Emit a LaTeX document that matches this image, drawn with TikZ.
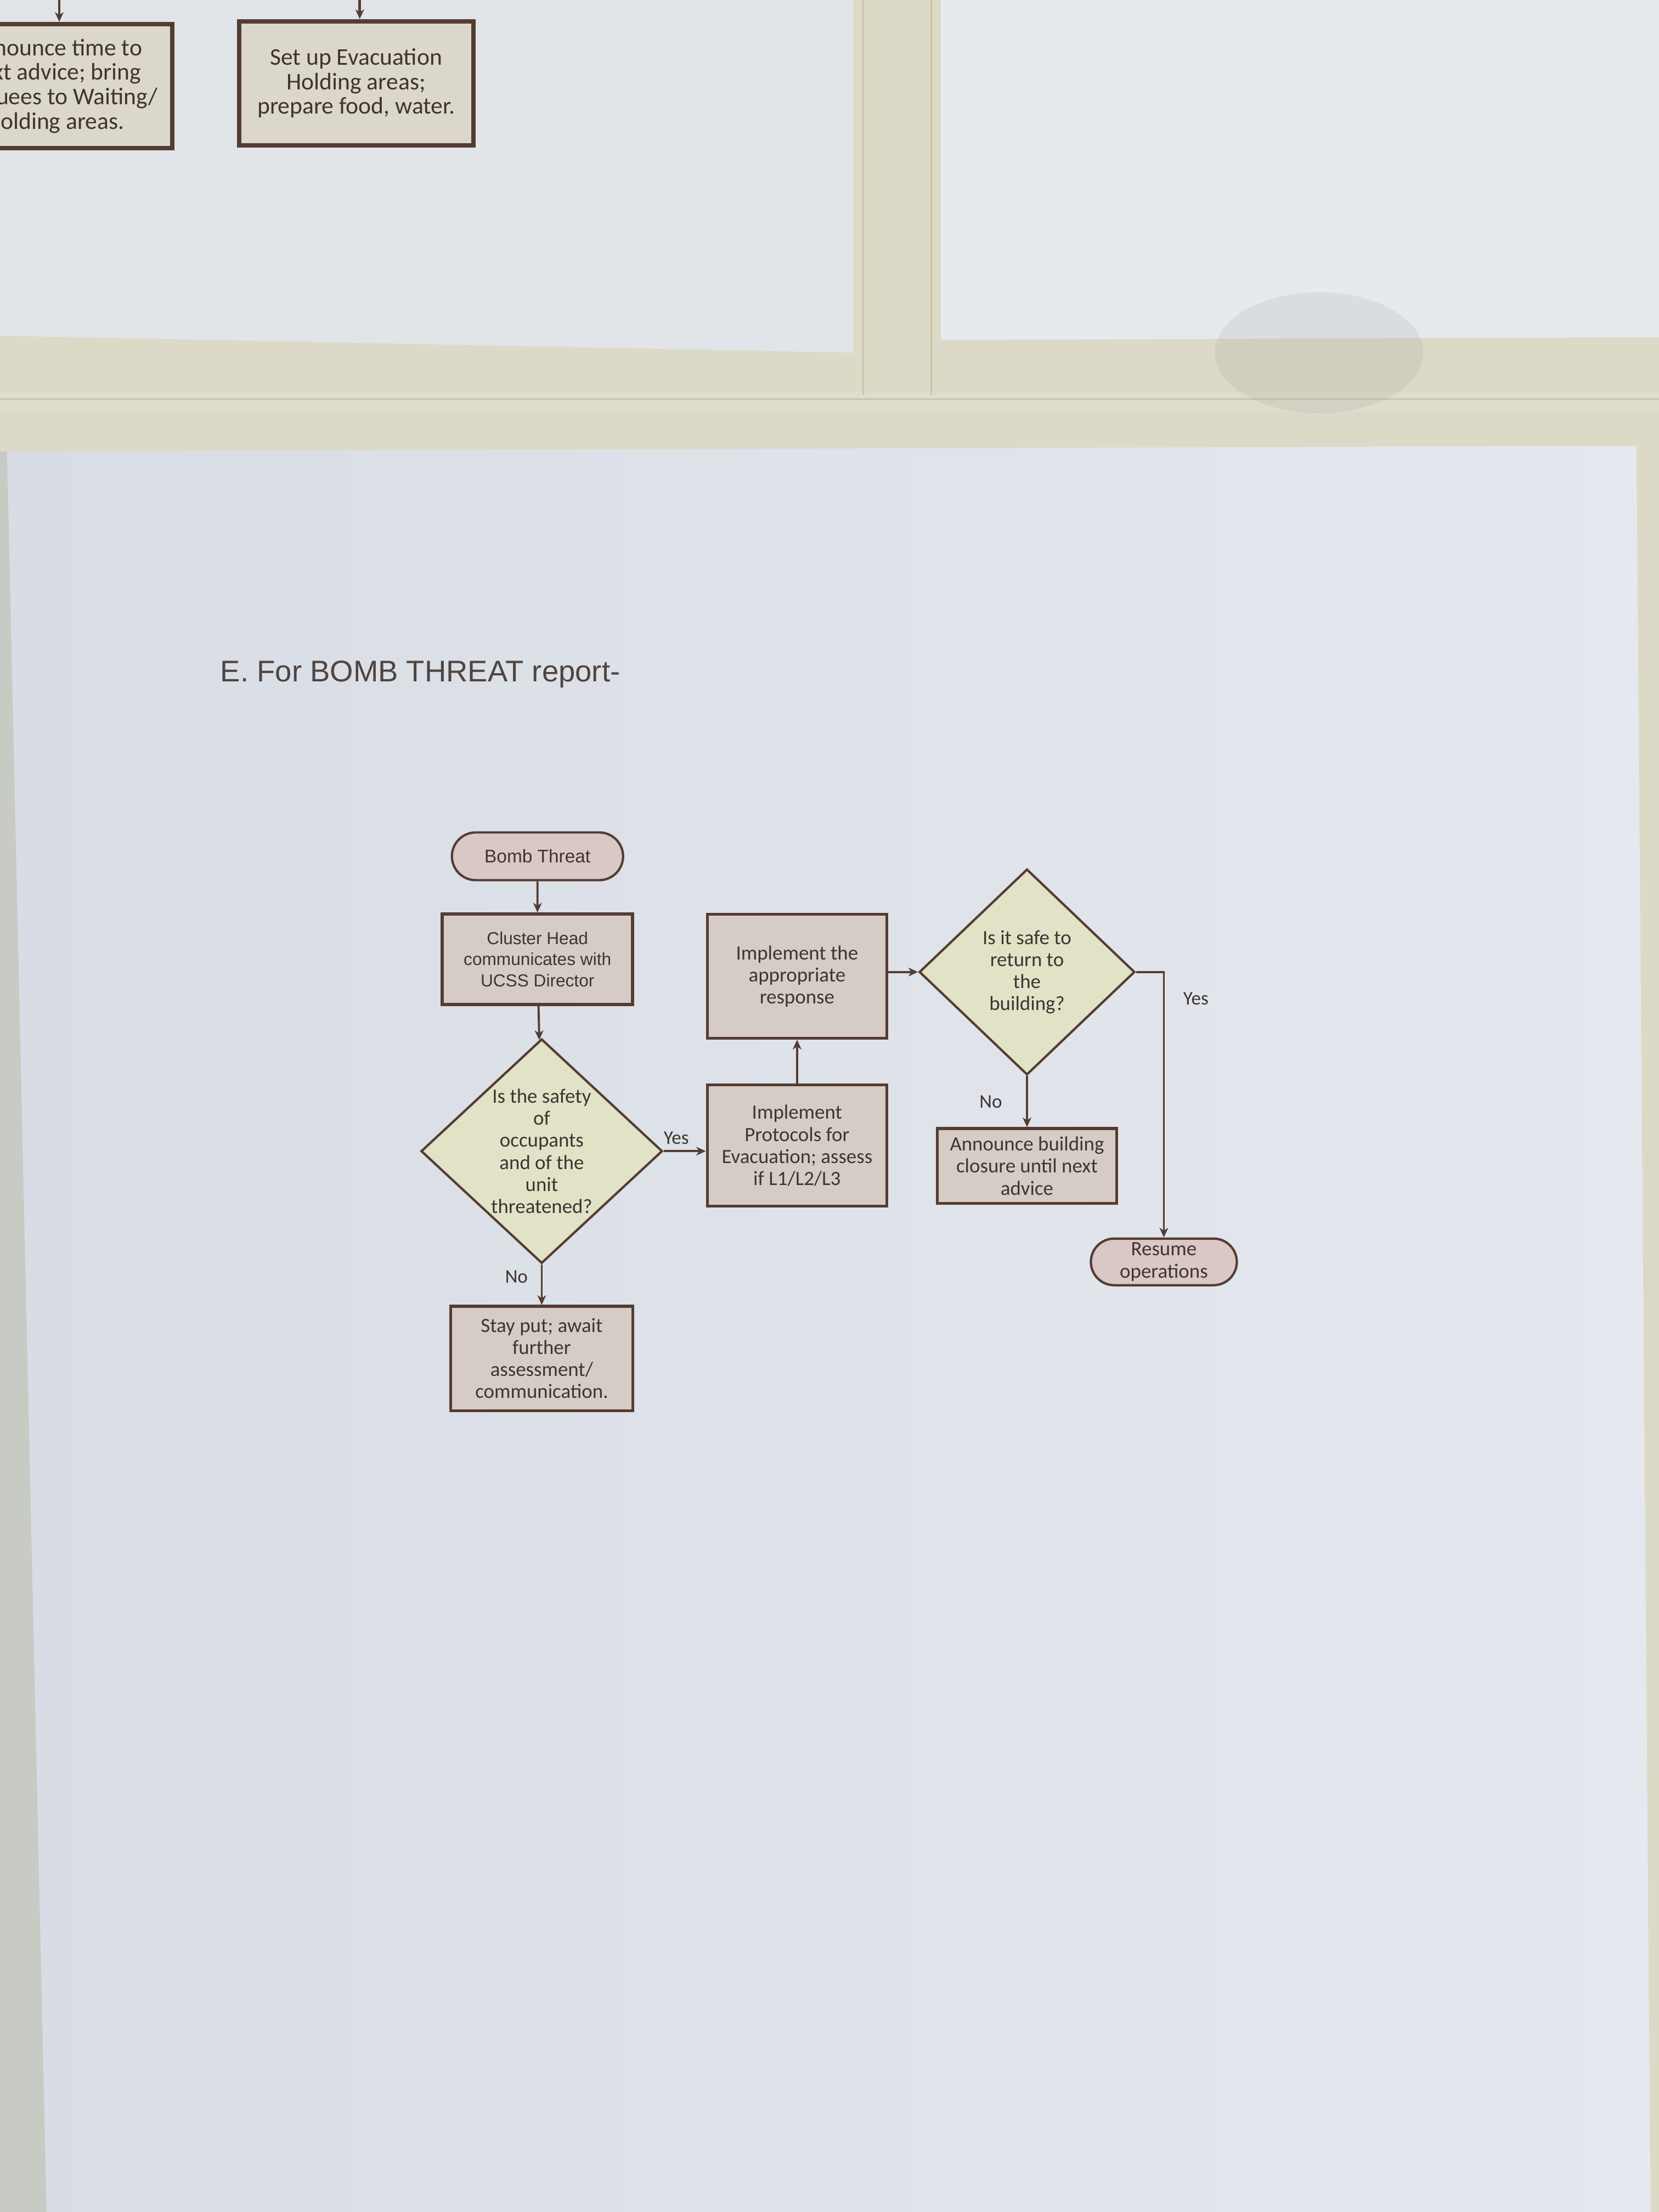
\documentclass[tikz,border=0pt]{standalone}
\usepackage{fontspec}
\setmainfont{Carlito}
\newfontfamily\arialfont{Liberation Sans}
\usepackage{tikz}
\usetikzlibrary{arrows.meta,positioning,shapes.geometric,shapes.misc}
\definecolor{wall}{HTML}{DCDAC6}
\definecolor{wallline}{HTML}{C9C5AD}
\definecolor{wallgrey}{HTML}{C8CAC4}
\definecolor{paperA}{HTML}{E1E4E9}
\definecolor{paperB}{HTML}{E6E9EE}
\definecolor{paperL}{HTML}{D8DCE4}
\definecolor{paperR}{HTML}{E5E8EE}
\definecolor{inkbrown}{HTML}{553C33}
\definecolor{inktext}{HTML}{3E3431}
\definecolor{titleink}{HTML}{4F4440}
\definecolor{rectfill}{HTML}{D6CCC6}
\definecolor{diafill}{HTML}{E2E2C6}
\definecolor{termfill}{HTML}{D9C8C5}
\definecolor{oldfill}{HTML}{DCD7CB}
\tikzset{box/.style={draw=inkbrown, line width=1.6pt, fill=rectfill, align=center, inner sep=2pt, text=inktext, font=\fontsize{10.5}{11.4}\selectfont}, dbox/.style={diamond, draw=inkbrown, line width=1.2pt, fill=diafill, inner sep=0pt}, dtext/.style={align=center, text=inktext, inner sep=0pt, font=\fontsize{10.5}{11.4}\selectfont}, tbox/.style={rounded rectangle, draw=inkbrown, line width=1.2pt, fill=termfill, align=center, inner sep=1pt, text=inktext, font=\fontsize{10.5}{11.4}\selectfont}, obox/.style={draw=inkbrown, line width=2.3pt, fill=oldfill, align=center, text=inktext, font=\fontsize{12.4}{12.7}\selectfont, minimum width=4.27cm, minimum height=2.26cm}, edge/.style={draw=inkbrown, line width=1.1pt, -{Stealth[length=5pt,width=4.5pt,inset=1.5pt]}}, lbl/.style={text=inktext, inner sep=1pt, font=\fontsize{10}{12}\selectfont}}

\begin{document}
\begin{tikzpicture}[x=0.025714cm, y=-0.025714cm]
\useasboundingbox (0,0) rectangle (1176,1568);
\clip (0,0) rectangle (1176,1568);
\fill[wall] (0,0) rectangle (1176,1568);
\fill[wallline!60] (0,278) rectangle (1176,292);
\draw[wallline, line width=1pt] (0,283) -- (1176,283);
\draw[wallline, line width=0.8pt] (612,0) -- (612,280);
\draw[wallline, line width=0.8pt] (660,0) -- (660,280);
\fill[wallgrey] (0,320) rectangle (40,1568);
\fill[paperA] (0,0) -- (605,0) -- (605,250) -- (0,238) -- cycle;
\fill[paperB] (667,0) -- (1176,0) -- (1176,239) -- (667,241) -- cycle;
\fill[gray, opacity=0.12] (935,250) ellipse (1.9cm and 1.1cm);
\shade[left color=paperL, right color=paperR] (5,320) -- (1160,316) -- (1170,1568) -- (33,1568) -- cycle;

\node[obox] (announce) at (39,61) {Announce time to\\next advice; bring\\evacuees to Waiting/\\Holding areas.};
\node[obox] (setup) at (252.5,59) {Set up Evacuation\\Holding areas;\\prepare food, water.};
\coordinate (inA) at (42,-20);
\coordinate (inB) at (255,-20);
\draw[edge, line width=1.3pt] (inA) -- (inA |- announce.north);
\draw[edge, line width=1.3pt] (inB) -- (inB |- setup.north);
\node[lbl, font=\fontsize{12.4}{13}\selectfont] (noB) at (219,-7) {No};

\node[anchor=west, inner sep=0pt, text=titleink, font=\arialfont\fontsize{15.5}{18}\selectfont] (title) at (156,478) {E. For BOMB THREAT report-};

\node[tbox, minimum width=3.19cm, minimum height=0.87cm, font=\arialfont\fontsize{9.5}{11}\selectfont] (bomb) at (381,607) {Bomb Threat};
\node[box, minimum width=3.47cm, minimum height=1.65cm, font=\arialfont\fontsize{9}{11}\selectfont] (cluster) at (381,680) {Cluster Head\\communicates with\\UCSS Director};
\node[dbox, minimum width=4.4cm, minimum height=4.09cm] (safe) at (384,816) {};
\node[dtext] (safetxt) at (safe) {Is the safety\\of\\occupants\\and of the\\unit\\threatened?};
\node[box, minimum width=3.32cm, minimum height=1.9cm] (stay) at (384,963) {Stay put; await\\further\\assessment/\\communication.};
\node[box, minimum width=3.27cm, minimum height=2.21cm] (proto) at (565,812) {Implement\\Protocols for\\Evacuation; assess\\if L1/L2/L3};
\node[box, minimum width=3.27cm, minimum height=2.26cm] (resp) at (565,692) {Implement the\\appropriate\\response};
\node[dbox, minimum width=3.93cm, minimum height=3.75cm] (ret) at (728,689) {};
\node[dtext] (rettxt) at (ret) {Is it safe to\\return to\\the\\building?};
\node[box, minimum width=3.27cm, minimum height=1.36cm] (closure) at (728,826.5) {Announce building\\closure until next\\advice};
\node[tbox, minimum width=2.73cm, minimum height=0.85cm] (resume) at (825,894.5) {Resume\\operations};

\draw[edge] (bomb) -- (cluster);
\draw[edge] (cluster) -- (safe);
\draw[edge] (safe.east) -- node[lbl, above=2pt, pos=0.3] (yes1) {Yes} (safe.east -| proto.west);
\draw[edge] (proto) -- (resp);
\draw[edge] (resp.east |- ret.west) -- (ret.west);
\draw[edge] (ret) -- node[lbl, left=0.4cm] (no2) {No} (closure);
\draw[edge] (ret.east) -| node[lbl, pos=0.55, right=0.3cm] (yes2) {Yes} (resume.north);
\draw[edge] (safe) -- node[lbl, pos=0.3, left=0.2cm] (no1) {No} (stay);
\end{tikzpicture}
\end{document}
